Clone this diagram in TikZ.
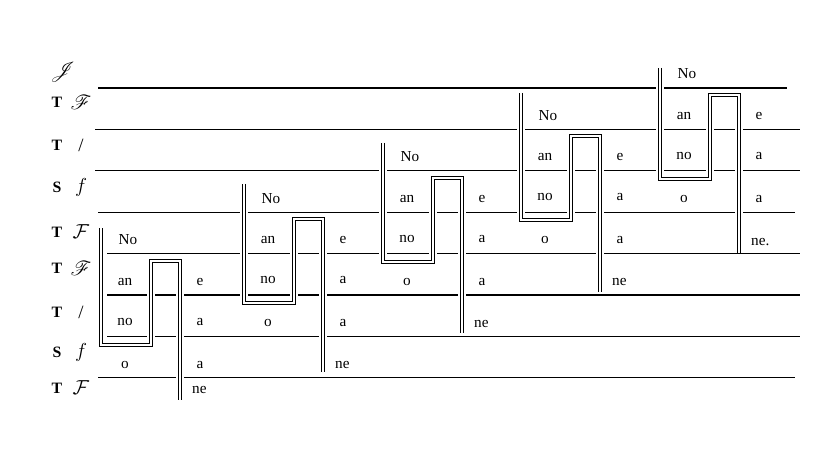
\documentclass[tikz,border=0pt]{standalone}
\usepackage{fontspec}
\setmainfont{Liberation Serif}
\usepackage{mathrsfs}

\begin{document}
\begin{tikzpicture}[x=0.03cm, y=-0.03cm,
    staff/.style={line width=0.9pt},
    meander/.style={preaction={draw=white, line width=7.5pt}, double, double distance=1.7pt, line width=0.85pt},
    syl/.style={font=\fontsize{13}{15}\selectfont, inner sep=0pt},
    clef/.style={font=\fontsize{16}{18}\selectfont, inner sep=0pt},
    voice/.style={font=\fontsize{13.5}{15}\selectfont\bfseries, inner sep=0pt}]
  \useasboundingbox (0,0) rectangle (838,453);
  % staff lines
  \foreach \i/\xa/\xb in {1/98/787, 2/95/800, 3/95/800, 4/98/795, 5/107/800, 6/107/800, 7/107/800, 8/98/795} {
    \coordinate (ls\i) at (\xa,{88+41.4*(\i-1)});
    \coordinate (le\i) at (\xb,{88+41.4*(\i-1)});
    \draw[staff] (ls\i) -- (le\i);
  }
  % voices on the left
  \node[clef] (clef0) at (63,72) {$\mathscr{J}$};
  \foreach \i/\yv/\vc/\cl in {1/102/T/{$\mathscr{F}$}, 2/145/T/{/}, 3/187/S/{$f$}, 4/232/T/{$\mathcal{F}$},
                             5/268/T/{$\mathscr{F}$}, 6/312/T/{/}, 7/352/S/{$f$}, 8/388/T/{$\mathcal{F}$}} {
    \node[voice] (voice\i) at (57,\yv) {\vc};
    \node[clef] (clef\i) at (81,\yv) {\cl};
  }
  % the five steps
  \foreach \k/\xo/\yb/\tp/\en/\ny/\last in {1/101/253.6/228/400/390/ne, 2/244/212.2/184/372/365/ne,
      3/383/170.8/143/333/324/ne, 4/521/129.4/93/292/282/ne, 5/660/88/68/253/242/ne.} {
    \draw[meander] (\xo,\tp) -- (\xo,\yb+91) -- (\xo+50,\yb+91) -- (\xo+50,\yb+7)
                   -- (\xo+79,\yb+7) -- (\xo+79,\en);
    \node[syl] (No\k) at (\xo+27,\yb-14) {No};
    \node[syl] (an\k) at (\xo+24,\yb+28) {an};
    \node[syl] (no\k) at (\xo+24,\yb+68) {no};
    \node[syl] (o\k)  at (\xo+24,\yb+111) {o};
    \node[syl] (e\k)  at (\xo+99,\yb+28) {e};
    \node[syl] (a\k)  at (\xo+99,\yb+68) {a};
    \node[syl] (aa\k) at (\xo+99,\yb+111) {a};
    \node[syl, anchor=west] (ne\k) at (\xo+91,\ny) {\last};
  }
\end{tikzpicture}
\end{document}
